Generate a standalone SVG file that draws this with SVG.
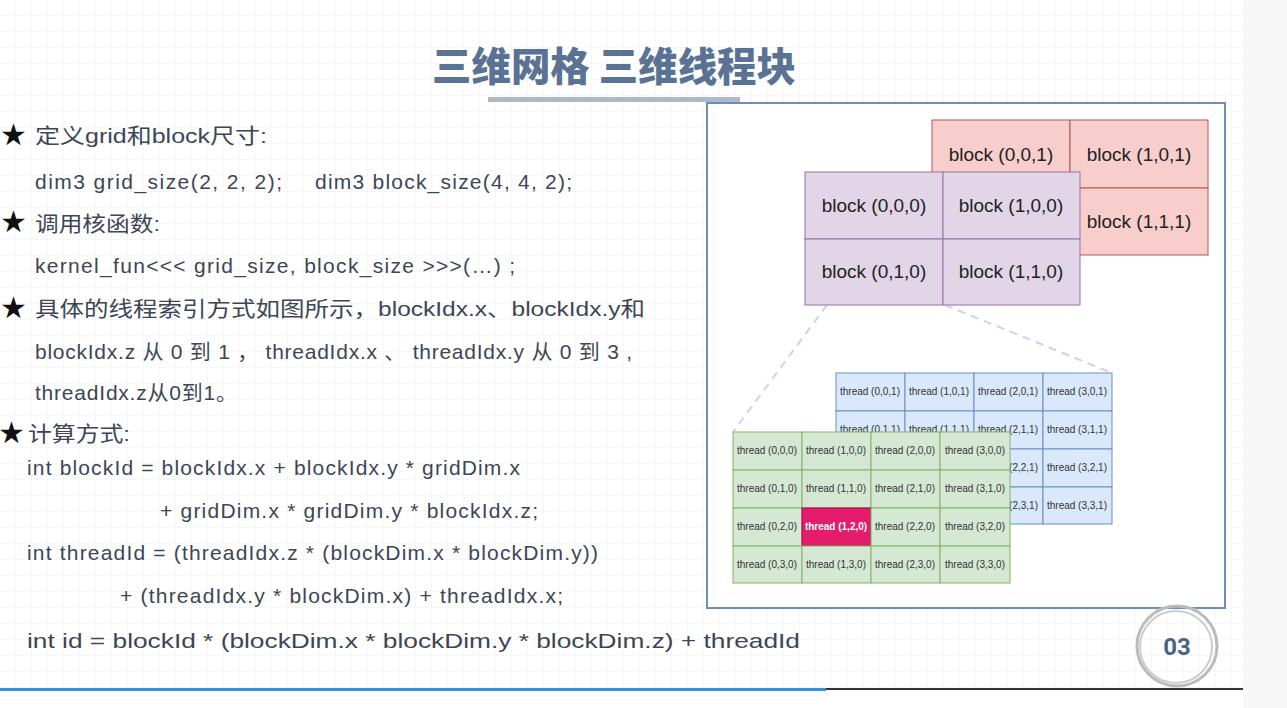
<svg xmlns="http://www.w3.org/2000/svg" width="1287" height="708" viewBox="0 0 1287 708">
<defs>
<pattern id="g" width="16" height="16" patternUnits="userSpaceOnUse"><path d="M16 0V16H0" fill="none" stroke="#eeeef2" stroke-width="1"/></pattern>
</defs>
<style>
.t{font-family:"Liberation Sans","Noto Sans CJK SC",sans-serif;font-size:21px;fill:#3d4656}
.s{font-family:"DejaVu Sans",sans-serif;font-size:30px;fill:#111}
.b{font-family:"Liberation Sans",sans-serif;font-size:19px;fill:#222;text-anchor:middle}
.th{font-family:"Liberation Sans",sans-serif;font-size:10px;fill:#333;text-anchor:middle}
.gr rect{fill:#d5e8d4;stroke:#82b366}
.bl rect{fill:#dae8fc;stroke:#6c8ebf}
</style>
<rect width="1287" height="708" fill="#fff"/>
<rect width="1243" height="690" fill="url(#g)"/>
<rect x="1243" y="0" width="44" height="708" fill="#f7f7f7"/>
<rect x="0" y="688" width="1243" height="2" fill="#333"/>
<rect x="0" y="688" width="826" height="3" fill="#3a8fd6"/>
<text x="614" y="81" text-anchor="middle" font-family="Noto Sans CJK SC,sans-serif" font-weight="900" font-size="40" fill="#5a7394" textLength="364" lengthAdjust="spacingAndGlyphs">三维网格 三维线程块</text>
<rect x="488" y="97" width="252" height="5" fill="#8a9bb0" opacity="0.7"/>
<g id="text">
<text class="s" x="0" y="145">★</text><text class="t" x="35" y="143" textLength="232" lengthAdjust="spacingAndGlyphs">定义grid和block尺寸:</text>
<text class="t" x="35" y="189" textLength="247" lengthAdjust="spacing">dim3 grid_size(2, 2, 2);</text>
<text class="t" x="315" y="189" textLength="257" lengthAdjust="spacing">dim3 block_size(4, 4, 2);</text>
<text class="s" x="0" y="232">★</text><text class="t" x="35" y="231" textLength="125" lengthAdjust="spacingAndGlyphs">调用核函数:</text>
<text class="t" x="35" y="273" textLength="480" lengthAdjust="spacing">kernel_fun&lt;&lt;&lt; grid_size, block_size &gt;&gt;&gt;(…) ;</text>
<text class="s" x="0" y="318">★</text><text class="t" x="35" y="316" font-size="22" textLength="610" lengthAdjust="spacingAndGlyphs">具体的线程索引方式如图所示，blockIdx.x、blockIdx.y和</text>
<text class="t" x="35" y="359" textLength="597" lengthAdjust="spacing">blockIdx.z 从 0 到 1 ，  threadIdx.x 、 threadIdx.y 从 0 到 3 ,</text>
<text class="t" x="35" y="400" textLength="202" lengthAdjust="spacing">threadIdx.z从0到1。</text>
<text class="s" x="-2" y="443">★</text><text class="t" x="28" y="441" textLength="102" lengthAdjust="spacingAndGlyphs">计算方式:</text>
<text class="t" x="27" y="475" textLength="493" lengthAdjust="spacing">int blockId = blockIdx.x + blockIdx.y * gridDim.x</text>
<text class="t" x="160" y="518" textLength="378" lengthAdjust="spacing">+ gridDim.x * gridDim.y * blockIdx.z;</text>
<text class="t" x="27" y="560" textLength="571" lengthAdjust="spacing">int threadId = (threadIdx.z * (blockDim.x * blockDim.y))</text>
<text class="t" x="120" y="603" textLength="443" lengthAdjust="spacing">+ (threadIdx.y * blockDim.x) + threadIdx.x;</text>
<text class="t" x="27" y="648" font-size="23" textLength="773" lengthAdjust="spacingAndGlyphs">int id = blockId * (blockDim.x * blockDim.y * blockDim.z) + threadId</text>
</g>
<rect x="707" y="103" width="518" height="505" fill="#fff" stroke="#6c8ebf" stroke-width="2"/>
<g id="connectors" stroke="#d6ccf0" stroke-width="2" stroke-dasharray="8 6" fill="none">
<path d="M827 305L733 432"/><path d="M945 305L1112 373"/>
</g>
<g id="blocks1">
<rect x="932" y="120" width="138" height="68" fill="#f8cecc" stroke="#b85450"/>
<rect x="1070" y="120" width="138" height="68" fill="#f8cecc" stroke="#b85450"/>
<rect x="932" y="188" width="138" height="67" fill="#f8cecc" stroke="#b85450"/>
<rect x="1070" y="188" width="138" height="67" fill="#f8cecc" stroke="#b85450"/>
<text class="b" x="1001" y="161">block (0,0,1)</text><text class="b" x="1139" y="161">block (1,0,1)</text>
<text class="b" x="1139" y="228">block (1,1,1)</text>
</g>
<g id="blocks0" fill="#e1d5e7" stroke="#9673a6">
<rect x="805" y="172" width="138" height="67"/><rect x="943" y="172" width="137" height="67"/>
<rect x="805" y="239" width="138" height="66"/><rect x="943" y="239" width="137" height="66"/>
</g>
<g><text class="b" x="874" y="212">block (0,0,0)</text><text class="b" x="1011" y="212">block (1,0,0)</text>
<text class="b" x="874" y="278">block (0,1,0)</text><text class="b" x="1011" y="278">block (1,1,0)</text></g>
<g id="threads1" class="bl">
<rect x="836" y="373" width="69" height="38"/><rect x="905" y="373" width="69" height="38"/><rect x="974" y="373" width="69" height="38"/><rect x="1043" y="373" width="69" height="38"/>
<rect x="836" y="411" width="69" height="38"/><rect x="905" y="411" width="69" height="38"/><rect x="974" y="411" width="69" height="38"/><rect x="1043" y="411" width="69" height="38"/>
<rect x="836" y="449" width="69" height="38"/><rect x="905" y="449" width="69" height="38"/><rect x="974" y="449" width="69" height="38"/><rect x="1043" y="449" width="69" height="38"/>
<rect x="836" y="487" width="69" height="37"/><rect x="905" y="487" width="69" height="37"/><rect x="974" y="487" width="69" height="37"/><rect x="1043" y="487" width="69" height="37"/>
<text class="th" x="870" y="395">thread (0,0,1)</text><text class="th" x="939" y="395">thread (1,0,1)</text><text class="th" x="1008" y="395">thread (2,0,1)</text><text class="th" x="1077" y="395">thread (3,0,1)</text>
<text class="th" x="870" y="433">thread (0,1,1)</text><text class="th" x="939" y="433">thread (1,1,1)</text><text class="th" x="1008" y="433">thread (2,1,1)</text><text class="th" x="1077" y="433">thread (3,1,1)</text>
<text class="th" x="1008" y="471">thread (2,2,1)</text><text class="th" x="1077" y="471">thread (3,2,1)</text>
<text class="th" x="1008" y="509">thread (2,3,1)</text><text class="th" x="1077" y="509">thread (3,3,1)</text>
</g>
<g id="threads0" class="gr">
<rect x="733" y="432" width="69" height="38"/><rect x="802" y="432" width="69" height="38"/><rect x="871" y="432" width="69" height="38"/><rect x="940" y="432" width="70" height="38"/>
<rect x="733" y="470" width="69" height="38"/><rect x="802" y="470" width="69" height="38"/><rect x="871" y="470" width="69" height="38"/><rect x="940" y="470" width="70" height="38"/>
<rect x="733" y="508" width="69" height="38"/><rect x="802" y="508" width="69" height="38" style="fill:#e51c6b;stroke:#a50040"/><rect x="871" y="508" width="69" height="38"/><rect x="940" y="508" width="70" height="38"/>
<rect x="733" y="546" width="69" height="37"/><rect x="802" y="546" width="69" height="37"/><rect x="871" y="546" width="69" height="37"/><rect x="940" y="546" width="70" height="37"/>
<text class="th" x="767" y="454">thread (0,0,0)</text><text class="th" x="836" y="454">thread (1,0,0)</text><text class="th" x="905" y="454">thread (2,0,0)</text><text class="th" x="975" y="454">thread (3,0,0)</text>
<text class="th" x="767" y="492">thread (0,1,0)</text><text class="th" x="836" y="492">thread (1,1,0)</text><text class="th" x="905" y="492">thread (2,1,0)</text><text class="th" x="975" y="492">thread (3,1,0)</text>
<text class="th" x="767" y="530">thread (0,2,0)</text><text class="th" x="836" y="530" style="fill:#fff;font-weight:bold">thread (1,2,0)</text><text class="th" x="905" y="530">thread (2,2,0)</text><text class="th" x="975" y="530">thread (3,2,0)</text>
<text class="th" x="767" y="568">thread (0,3,0)</text><text class="th" x="836" y="568">thread (1,3,0)</text><text class="th" x="905" y="568">thread (2,3,0)</text><text class="th" x="975" y="568">thread (3,3,0)</text>
</g>
<g id="page">
<circle cx="1177" cy="646" r="40" fill="none" stroke="#bbb" stroke-width="3"/>
<circle cx="1176" cy="647" r="36" fill="none" stroke="#ccc" stroke-width="2"/>
<text x="1177" y="655" text-anchor="middle" font-family="Roboto,sans-serif" font-weight="bold" font-size="24" fill="#4a6285">03</text>
</g>
</svg>
